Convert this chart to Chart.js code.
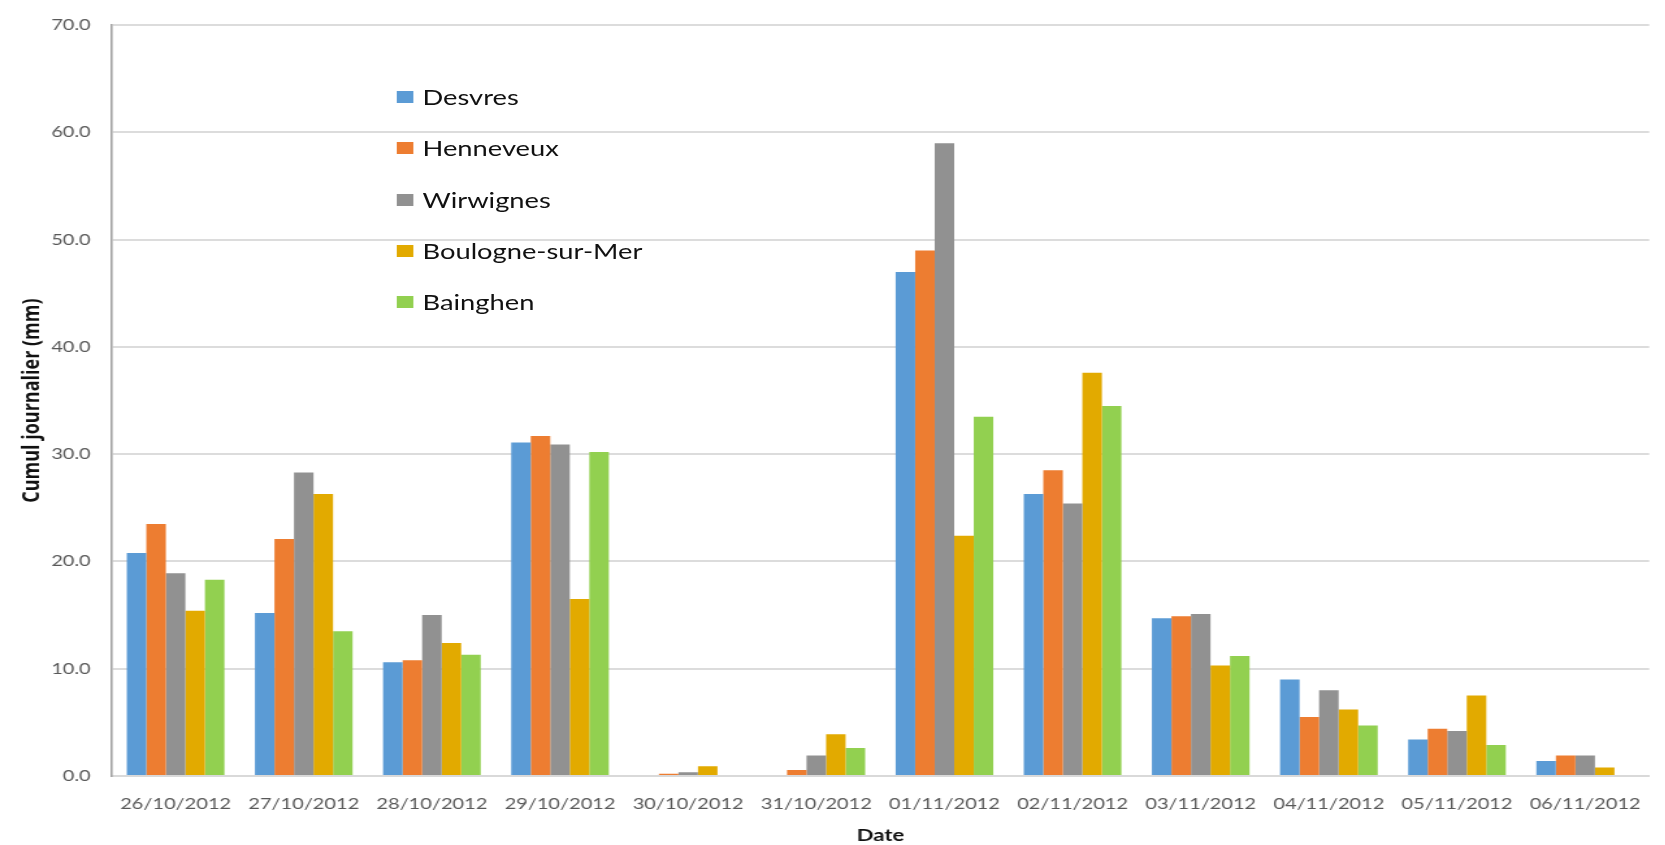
<!DOCTYPE html>
<html lang="fr">
<head>
<meta charset="utf-8">
<title>Cumul journalier</title>
<script src="https://cdn.jsdelivr.net/npm/chart.js@4"></script>
<style>
  html, body { margin: 0; padding: 0; background: #fff; overflow: hidden; }
  /* the figure is laid out on a narrower page and widened to 1665px */
  #wrap { position: absolute; left: 0; top: 0; width: 1281px; height: 845px;
          transform: scaleX(1.3); transform-origin: 0 0; }
  #chart { position: absolute; left: 0; top: 0; width: 1281px; height: 845px; }
  #legend { position: absolute; left: 305px; top: 0; margin: 0; padding: 0; list-style: none;
            font-family: Lato, sans-serif; font-size: 21px; color: #111; }
  #legend li { position: absolute; left: 0; height: 24px; line-height: 24px; white-space: nowrap; }
  #legend .sw { position: absolute; left: 0; top: 6px; width: 13px; height: 12px; }
  #legend .tx { position: absolute; left: 20px; top: 0; }
</style>
</head>
<body>
<div id="wrap">
  <canvas id="chart" width="1281" height="845"></canvas>
  <ul id="legend"></ul>
</div>
<script>
// Dates of the daily totals
const dates = ['26/10/2012', '27/10/2012', '28/10/2012', '29/10/2012', '30/10/2012', '31/10/2012',
               '01/11/2012', '02/11/2012', '03/11/2012', '04/11/2012', '05/11/2012', '06/11/2012'];

// Daily rainfall per station (mm)
const desvres    = [20.8, 15.2, 10.6, 31.1, 0.0,  0.0, 47.0, 26.3, 14.7, 9.0, 3.4, 1.4];
const henneveux  = [23.5, 22.1, 10.8, 31.7, 0.2,  0.55, 49.0, 28.5, 14.9, 5.5, 4.4, 1.9];
const wirwignes  = [18.9, 28.3, 15.0, 30.9, 0.35, 1.9, 59.0, 25.4, 15.1, 8.0, 4.2, 1.9];
const boulogne   = [15.4, 26.3, 12.4, 16.5, 0.9,  3.9, 22.4, 37.6, 10.3, 6.2, 7.5, 0.8];
const bainghen   = [18.3, 13.5, 11.3, 30.2, 0.0,  2.6, 33.5, 34.5, 11.2, 4.7, 2.9, 0.0];

const stationNames = ['Desvres', 'Henneveux', 'Wirwignes', 'Boulogne-sur-Mer', 'Bainghen'];
const stationValues = [desvres, henneveux, wirwignes, boulogne, bainghen];
const stationColors = ['#5b9bd5', '#ed7d31', '#919191', '#e2aa00', '#92d050'];

// Value axis ticks
const yMin = 0, yMax = 70, yStep = 10;

const datasets = stationNames.map((name, i) => ({
  label: name,
  data: stationValues[i],
  backgroundColor: stationColors[i],
  borderWidth: 0,
  barPercentage: 1.0,
  categoryPercentage: 0.762
}));

const tickFont = { family: 'Lato, sans-serif', size: 15.4 };

new Chart(document.getElementById('chart'), {
  type: 'bar',
  data: { labels: dates, datasets },
  options: {
    responsive: false,
    animation: false,
    devicePixelRatio: 1,
    layout: { padding: { top: 22.7, right: 0, bottom: 0, left: 0 } },
    plugins: { legend: { display: false }, tooltip: { enabled: false } },
    scales: {
      x: {
        grid: { display: false, drawTicks: false },
        border: { display: true, color: '#d9d9d9', width: 2 },
        ticks: { color: '#595959', font: tickFont, padding: 19, maxRotation: 0, autoSkip: false },
        title: {
          display: true, text: 'Date', color: '#111',
          font: { family: 'Lato, sans-serif', size: 17, weight: 'bold', lineHeight: 1.06 },
          padding: { top: 0, bottom: 0 }
        },
        afterFit: (s) => { s.height = 69; }
      },
      y: {
        min: yMin, max: yMax,
        grid: { color: '#dcdcdc', lineWidth: 2, drawTicks: false },
        border: { display: true, color: '#a3a3a3', width: 1.6 },
        ticks: {
          stepSize: yStep, color: '#595959', font: tickFont, padding: 16,
          callback: (v) => Number(v).toFixed(1)
        },
        title: {
          display: true, text: 'Cumul journalier (mm)', color: '#111',
          font: { family: '"Open Sans", sans-serif', size: 18, weight: 'bold', lineHeight: 1.2 },
          padding: { top: 13.6, bottom: 0 }
        },
        afterFit: (s) => { s.width = 85.8; }
      }
    }
  }
});

// Legend block placed inside the plot area
const legendEl = document.getElementById('legend');
const legendRowTop = 85, legendRowGap = 51.3;
stationNames.forEach((name, i) => {
  const li = document.createElement('li');
  li.style.top = (legendRowTop + i * legendRowGap) + 'px';
  const sw = document.createElement('span');
  sw.className = 'sw';
  sw.style.background = stationColors[i];
  const tx = document.createElement('span');
  tx.className = 'tx';
  tx.textContent = name;
  li.appendChild(sw);
  li.appendChild(tx);
  legendEl.appendChild(li);
});
</script>
</body>
</html>
